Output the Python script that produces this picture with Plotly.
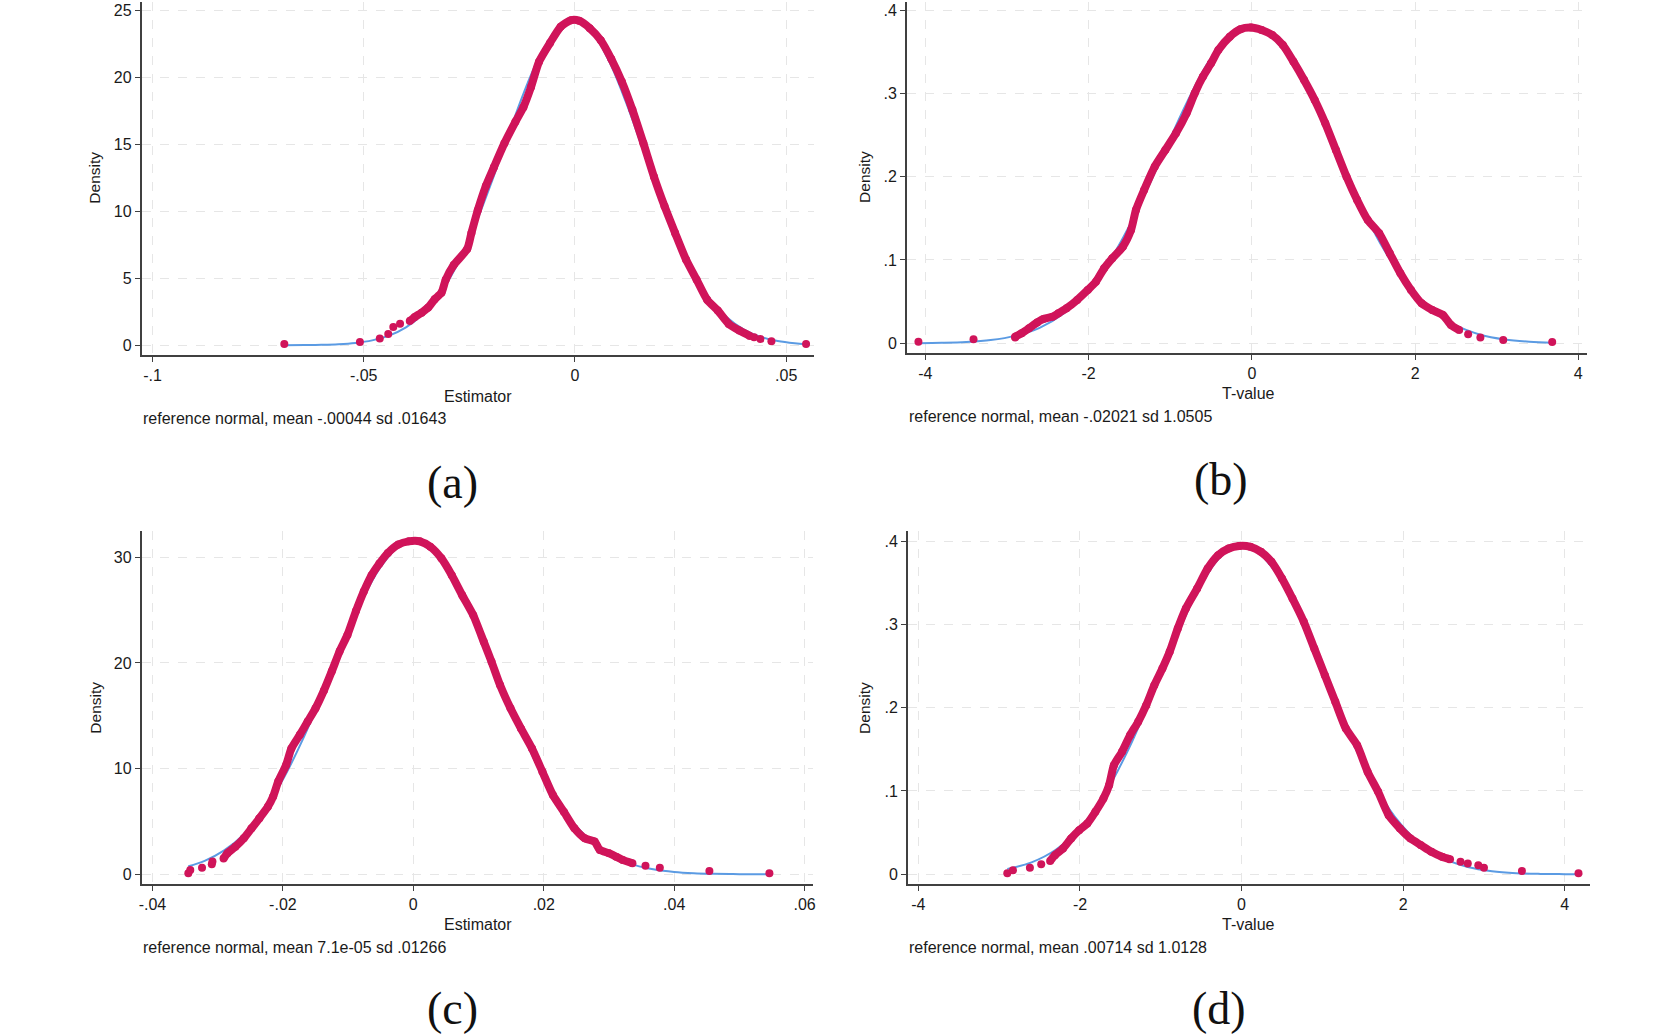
import plotly.graph_objects as go

W, H = 1674, 1034

# ---------------- data ----------------
# Panel (a): Estimator
a_body_x = [-0.0391, -0.0379, -0.0363, -0.0348, -0.0332, -0.0316, -0.0306, -0.0287, -0.0255, -0.0245,
            -0.0230, -0.0211, -0.0192, -0.0167, -0.0141, -0.0122, -0.0104, -0.0085, -0.0059, -0.0034,
            -0.0009, 0.0010, 0.0035, 0.0061, 0.0086, 0.0111, 0.0136, 0.0162, 0.0187, 0.0212,
            0.0237, 0.0263, 0.0288, 0.0313, 0.0338, 0.0364, 0.0389, 0.0414]
a_body_y = [1.82, 2.12, 2.44, 2.81, 3.44, 3.93, 4.9, 6.0, 7.2, 8.4,
            10.1, 11.9, 13.3, 15.1, 16.7, 17.8, 19.3, 21.2, 22.6, 23.8,
            24.3, 24.25, 23.7, 22.8, 21.4, 19.7, 17.6, 15.1, 12.6, 10.4,
            8.4, 6.4, 4.9, 3.4, 2.6, 1.6, 1.1, 0.7]
a_tail_x = [-0.0688, -0.0509, -0.0462, -0.0442, -0.0430, -0.0414, 0.0424, 0.0439, 0.0465, 0.0547]
a_tail_y = [0.1, 0.25, 0.5, 0.85, 1.37, 1.61, 0.6, 0.47, 0.3, 0.1]
a_norm_x = [-0.0688, -0.064, -0.06, -0.056, -0.052, -0.048, -0.044, -0.04, -0.036, -0.032, -0.028,
            -0.024, -0.02, -0.016, -0.012, -0.008, -0.004, 0.0, 0.004, 0.008, 0.012, 0.016,
            0.02, 0.024, 0.028, 0.032, 0.036, 0.04, 0.044, 0.048, 0.052, 0.0547]
a_norm_y = [0.004, 0.014, 0.034, 0.08, 0.177, 0.368, 0.723, 1.337, 2.334, 3.836, 5.95,
            8.69, 11.96, 15.51, 18.96, 21.84, 23.72, 24.27, 23.41, 21.28, 18.23, 14.72,
            11.20, 8.03, 5.43, 3.46, 2.075, 1.175, 0.626, 0.315, 0.149, 0.087]

# Panel (b): T-value
b_body_x = [-2.90, -2.82, -2.73, -2.63, -2.56, -2.44, -2.37, -2.27, -2.14, -2.01, -1.91, -1.81,
            -1.71, -1.58, -1.48, -1.42, -1.32, -1.19, -1.06, -0.93, -0.80, -0.70, -0.60, -0.50,
            -0.41, -0.27, -0.14, -0.01, 0.12, 0.25, 0.38, 0.51, 0.64, 0.77, 0.90, 1.03,
            1.16, 1.29, 1.42, 1.56, 1.69, 1.82, 1.95, 2.08, 2.21, 2.34, 2.44, 2.54]
b_body_y = [0.008, 0.012, 0.018, 0.025, 0.029, 0.032, 0.036, 0.042, 0.052, 0.064, 0.074, 0.090,
            0.102, 0.116, 0.136, 0.160, 0.184, 0.212, 0.232, 0.252, 0.276, 0.300, 0.320, 0.336,
            0.352, 0.368, 0.377, 0.379, 0.376, 0.370, 0.358, 0.338, 0.316, 0.292, 0.264, 0.232,
            0.200, 0.172, 0.148, 0.132, 0.108, 0.084, 0.064, 0.048, 0.040, 0.034, 0.022, 0.016]
b_tail_x = [-4.085, -3.41, -2.90, 2.65, 2.80, 3.08, 3.68]
b_tail_y = [0.002, 0.005, 0.007, 0.011, 0.007, 0.004, 0.0016]
b_norm_x = [-4.085, -3.8, -3.5, -3.2, -2.9, -2.6, -2.3, -2.0, -1.7, -1.4, -1.1, -0.8, -0.5, -0.2,
            0.1, 0.4, 0.7, 1.0, 1.3, 1.6, 1.9, 2.2, 2.5, 2.8, 3.1, 3.4, 3.68]
b_norm_y = [0.0002, 0.0006, 0.0016, 0.0039, 0.0089, 0.0186, 0.0360, 0.0643, 0.1058, 0.1603,
            0.2239, 0.2883, 0.3422, 0.3743, 0.3773, 0.3506, 0.3002, 0.2370, 0.1724, 0.1156,
            0.0714, 0.0407, 0.0214, 0.0103, 0.0046, 0.0019, 0.0008]

# Panel (c): Estimator
c_body_x = [-0.0291, -0.0285, -0.0273, -0.0260, -0.0248, -0.0236, -0.0223, -0.0215, -0.0207, -0.0195,
            -0.0187, -0.0174, -0.0162, -0.0150, -0.0137, -0.0125, -0.0113, -0.0101, -0.0088, -0.0076,
            -0.0064, -0.0052, -0.0039, -0.0023, -0.0007, 0.0010, 0.0026, 0.0043, 0.0059, 0.0075,
            0.0092, 0.0108, 0.0120, 0.0133, 0.0149, 0.0165, 0.0182, 0.0198, 0.0214, 0.0231,
            0.0247, 0.0263, 0.0278, 0.0286, 0.0300, 0.0311, 0.0321, 0.0336]
c_body_y = [1.5, 2.0, 2.6, 3.4, 4.35, 5.3, 6.4, 7.35, 8.8, 10.35,
            11.9, 13.2, 14.45, 15.7, 17.4, 19.2, 21.1, 22.65, 24.9, 26.75,
            28.3, 29.4, 30.4, 31.2, 31.5, 31.5, 31.0, 29.9, 28.3, 26.4,
            24.5, 22.0, 20.1, 17.9, 15.7, 13.8, 11.9, 9.7, 7.5, 5.9,
            4.35, 3.4, 3.1, 2.3, 2.0, 1.67, 1.36, 1.04]
c_tail_x = [-0.0345, -0.0342, -0.0324, -0.0309, -0.0308, 0.0356, 0.0378, 0.0454, 0.0546]
c_tail_y = [0.1, 0.41, 0.63, 0.95, 1.2, 0.82, 0.63, 0.32, 0.1]
c_norm_x = [-0.0345, -0.032, -0.029, -0.026, -0.023, -0.02, -0.017, -0.014, -0.011, -0.008, -0.005,
            -0.002, 0.001, 0.004, 0.007, 0.01, 0.013, 0.016, 0.019, 0.022, 0.025, 0.028,
            0.031, 0.034, 0.037, 0.04, 0.043, 0.046, 0.049, 0.052, 0.0546]
c_norm_y = [0.757, 1.274, 2.257, 3.78, 5.99, 8.97, 12.70, 16.99, 21.50, 25.72, 29.08,
            31.09, 31.43, 30.03, 27.13, 23.17, 18.71, 14.28, 10.30, 7.03, 4.53, 2.77,
            1.59, 0.87, 0.45, 0.22, 0.10, 0.044, 0.018, 0.007, 0.003]

# Panel (d): T-value
d_body_x = [-2.37, -2.31, -2.21, -2.11, -2.01, -1.91, -1.81, -1.71, -1.64, -1.58, -1.48, -1.38,
            -1.28, -1.18, -1.08, -0.98, -0.89, -0.79, -0.69, -0.55, -0.42, -0.29, -0.16, -0.03,
            0.11, 0.24, 0.37, 0.50, 0.63, 0.77, 0.90, 1.03, 1.16, 1.29, 1.43, 1.56,
            1.69, 1.82, 1.96, 2.09, 2.22, 2.35, 2.48, 2.58]
d_body_y = [0.016, 0.023, 0.031, 0.043, 0.053, 0.061, 0.075, 0.091, 0.107, 0.131, 0.147, 0.167,
            0.183, 0.203, 0.227, 0.247, 0.267, 0.295, 0.319, 0.343, 0.367, 0.383, 0.391, 0.394,
            0.393, 0.387, 0.375, 0.355, 0.331, 0.303, 0.271, 0.239, 0.207, 0.175, 0.155, 0.123,
            0.099, 0.071, 0.055, 0.043, 0.035, 0.027, 0.021, 0.018]
d_tail_x = [-2.90, -2.83, -2.62, -2.48, 2.71, 2.80, 2.93, 3.00, 3.47, 4.17]
d_tail_y = [0.0012, 0.005, 0.008, 0.012, 0.015, 0.013, 0.011, 0.008, 0.004, 0.0012]
d_norm_x = [-2.9, -2.6, -2.3, -2.0, -1.7, -1.4, -1.1, -0.8, -0.5, -0.2, 0.1, 0.4, 0.7, 1.0,
            1.3, 1.6, 1.9, 2.2, 2.5, 2.8, 3.1, 3.4, 3.7, 4.0, 4.17]
d_norm_y = [0.0064, 0.0143, 0.0294, 0.0553, 0.0952, 0.1500, 0.2167, 0.2867, 0.3475, 0.3857,
            0.3923, 0.3653, 0.3117, 0.2436, 0.1744, 0.1143, 0.0687, 0.0378, 0.0191, 0.0088,
            0.0037, 0.0014, 0.0005, 0.0002, 0.0001]

# tick labels
a_xticks = [-0.1, -0.05, 0, 0.05]
a_xtext = ["-.1", "-.05", "0", ".05"]
a_yticks = [0, 5, 10, 15, 20, 25]
a_ytext = ["0", "5", "10", "15", "20", "25"]
t_xticks = [-4, -2, 0, 2, 4]
t_xtext = ["-4", "-2", "0", "2", "4"]
t_yticks = [0, 0.1, 0.2, 0.3, 0.4]
t_ytext = ["0", ".1", ".2", ".3", ".4"]
c_xticks = [-0.04, -0.02, 0, 0.02, 0.04, 0.06]
c_xtext = ["-.04", "-.02", "0", ".02", ".04", ".06"]
c_yticks = [0, 10, 20, 30]
c_ytext = ["0", "10", "20", "30"]

notes = ["reference normal, mean -.00044 sd .01643",
         "reference normal, mean -.02021 sd 1.0505",
         "reference normal, mean 7.1e-05 sd .01266",
         "reference normal, mean .00714 sd 1.0128"]
xtitles = ["Estimator", "T-value", "Estimator", "T-value"]
labels = ["(a)", "(b)", "(c)", "(d)"]

# ---------------- styling ----------------
RED = "#D0145A"
BLUE = "#5B9BE3"
AXIS = "#404040"
GRID = "#E6E6E6"
TXT = "#1a1a1a"
SANS = "Liberation Sans, Arial, sans-serif"
SERIF = "Liberation Serif, Times New Roman, serif"

def px(x):
    return x / W

def py(y):
    return 1 - y / H

panels = [
    dict(bx=a_body_x, by=a_body_y, tx=a_tail_x, ty=a_tail_y, nx=a_norm_x, ny=a_norm_y,
         xdom=[139, 814], ydom=[355, 1.7], xr=[-0.1026, 0.0566], yr=[-0.725, 25.68],
         xt=(a_xticks, a_xtext), yt=(a_yticks, a_ytext),
         dens=(92, 178), xtit=(477, 396), note=(138, 418), lab=(451, 482)),
    dict(bx=b_body_x, by=b_body_y, tx=b_tail_x, ty=b_tail_y, nx=b_norm_x, ny=b_norm_y,
         xdom=[907, 1590], ydom=[353.3, 1.7], xr=[-4.228, 4.11], yr=[-0.012, 0.41],
         xt=(t_xticks, t_xtext), yt=(t_yticks, t_ytext),
         dens=(864, 177), xtit=(1250, 393), note=(907, 416), lab=(1222, 480)),
    dict(bx=c_body_x, by=c_body_y, tx=c_tail_x, ty=c_tail_y, nx=c_norm_x, ny=c_norm_y,
         xdom=[139, 813], ydom=[884.3, 531], xr=[-0.04168, 0.0613], yr=[-0.946, 32.48],
         xt=(c_xticks, c_xtext), yt=(c_yticks, c_ytext),
         dens=(92, 708), xtit=(477, 924), note=(138, 947), lab=(451, 1008)),
    dict(bx=d_body_x, by=d_body_y, tx=d_tail_x, ty=d_tail_y, nx=d_norm_x, ny=d_norm_y,
         xdom=[908, 1592.5], ydom=[884.3, 531], xr=[-4.132, 4.31], yr=[-0.012, 0.412],
         xt=(t_xticks, t_xtext), yt=(t_yticks, t_ytext),
         dens=(864, 708), xtit=(1250, 924), note=(907, 947), lab=(1220, 1008)),
]

fig = go.Figure()
layout = dict(width=W, height=H, margin=dict(l=0, r=0, t=0, b=0),
              paper_bgcolor="white", plot_bgcolor="white", showlegend=False,
              font=dict(family=SANS, size=16, color=TXT))
annotations = []

for i, p in enumerate(panels):
    k = "" if i == 0 else str(i + 1)
    xa, ya = "x" + k, "y" + k
    # reference normal (blue), then red density markers on top
    fig.add_trace(go.Scatter(x=p["nx"], y=p["ny"], mode="lines", xaxis=xa, yaxis=ya,
                             line=dict(color=BLUE, width=2, shape="spline"), hoverinfo="skip"))
    fig.add_trace(go.Scatter(x=p["bx"], y=p["by"], mode="lines+markers", xaxis=xa, yaxis=ya,
                             line=dict(color=RED, width=8, shape="spline", smoothing=0.6),
                             marker=dict(color=RED, size=8), hoverinfo="skip"))
    fig.add_trace(go.Scatter(x=p["tx"], y=p["ty"], mode="markers", xaxis=xa, yaxis=ya,
                             marker=dict(color=RED, size=8), hoverinfo="skip"))
    common = dict(showline=True, linecolor=AXIS, linewidth=1.5, ticks="outside", ticklen=5,
                  tickcolor=AXIS, tickwidth=1.3, showgrid=True, gridcolor=GRID, gridwidth=1,
                  griddash="dash", zeroline=False, tickfont=dict(family=SANS, size=16, color=TXT))
    layout["xaxis" + k] = dict(common, domain=[px(p["xdom"][0]), px(p["xdom"][1])],
                               range=p["xr"], tickmode="array", tickvals=p["xt"][0],
                               ticktext=p["xt"][1], anchor=ya)
    layout["yaxis" + k] = dict(common, domain=[py(p["ydom"][0]), py(p["ydom"][1])],
                               range=p["yr"], tickmode="array", tickvals=p["yt"][0],
                               ticktext=p["yt"][1], anchor=xa)
    annotations.append(dict(x=px(p["dens"][0]), y=py(p["dens"][1]), xref="paper", yref="paper",
                            text="Density", textangle=-90, showarrow=False,
                            xanchor="center", yanchor="middle",
                            font=dict(family=SANS, size=15.5, color=TXT)))
    annotations.append(dict(x=px(p["xtit"][0]), y=py(p["xtit"][1]), xref="paper", yref="paper",
                            text=xtitles[i], showarrow=False, xanchor="center", yanchor="middle",
                            font=dict(family=SANS, size=16, color=TXT)))
    annotations.append(dict(x=px(p["note"][0]), y=py(p["note"][1]), xref="paper", yref="paper",
                            text=notes[i], showarrow=False, xanchor="left", yanchor="middle",
                            font=dict(family=SANS, size=16, color=TXT)))
    annotations.append(dict(x=px(p["lab"][0]), y=py(p["lab"][1]), xref="paper", yref="paper",
                            text=labels[i], showarrow=False, xanchor="center", yanchor="middle",
                            font=dict(family=SERIF, size=46, color="#111")))

layout["annotations"] = annotations
fig.update_layout(**layout)
fig.write_html("out.html")
